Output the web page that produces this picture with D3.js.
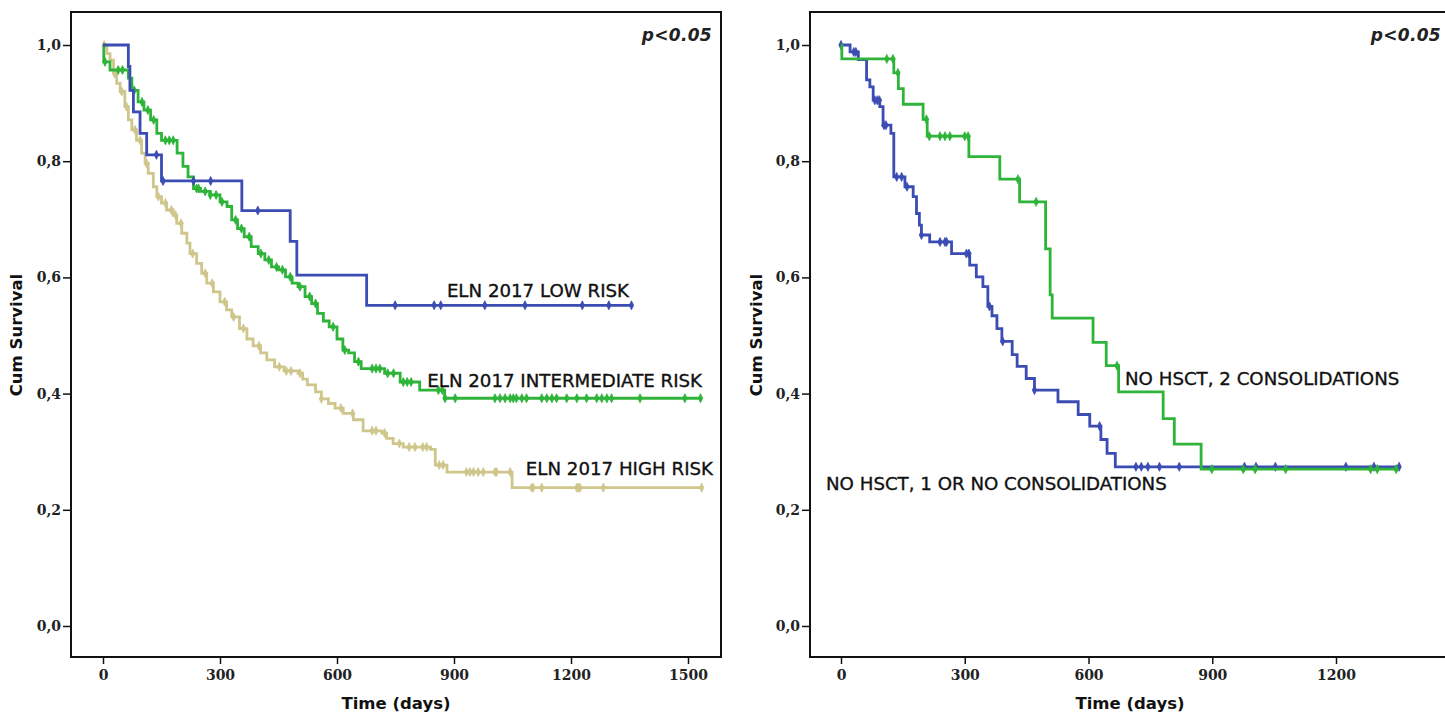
<!DOCTYPE html>
<html>
<head>
<meta charset="utf-8">
<script src="https://cdn.jsdelivr.net/npm/d3@7"></script>
<style>
  html, body { margin: 0; padding: 0; background: #fff; }
  svg { display: block; }
</style>
</head>
<body>
<svg id="chart" width="1445" height="718"></svg>
<script>
// ---------------- DATA ----------------
const yTickValues = [0, 0.2, 0.4, 0.6, 0.8, 1.0];
const xTicksLeft = [0, 300, 600, 900, 1200, 1500];
const xTicksRight = [0, 300, 600, 900, 1200];

// Left panel: ELN 2017 risk groups  [time (days), cumulative survival]
const lowRiskSteps = [[0,1.0],[65,0.963],[69,0.922],[78,0.885],[95,0.848],[112,0.811],[150,0.766],[356,0.715],[480,0.662],[497,0.604],[676,0.552]];
const lowRiskEnd = 1355;
const lowRiskCensor = [137,154,232,276,397,749,849,866,979,1082,1229,1297,1355];

const intRiskSteps = [[0,1.0],[2,0.971],[18,0.957],[65,0.943],[74,0.922],[90,0.902],[105,0.888],[122,0.871],[138,0.848],[150,0.836],[190,0.814],[205,0.791],[218,0.773],[232,0.753],[250,0.748],[275,0.742],[300,0.730],[318,0.722],[330,0.699],[345,0.684],[362,0.670],[380,0.653],[398,0.641],[415,0.630],[432,0.618],[450,0.613],[468,0.601],[485,0.590],[500,0.584],[518,0.567],[535,0.555],[550,0.538],[565,0.525],[580,0.515],[600,0.494],[615,0.475],[630,0.470],[645,0.455],[662,0.443],[722,0.435],[762,0.420],[812,0.406],[876,0.392]];
const intRiskEnd = 1532;
const intRiskCensor = [5,39,50,80,100,115,130,160,170,180,240,245,262,275,290,305,340,355,375,405,425,445,460,480,505,530,545,590,620,655,690,700,710,730,745,770,780,790,860,870,877,903,1005,1018,1031,1044,1052,1060,1074,1086,1125,1138,1151,1163,1189,1215,1240,1266,1279,1292,1304,1377,1492,1532];

const highRiskSteps = [[0,1.0],[10,0.985],[18,0.974],[27,0.951],[35,0.934],[44,0.920],[56,0.894],[65,0.871],[74,0.854],[86,0.836],[99,0.814],[108,0.796],[116,0.779],[129,0.756],[138,0.739],[150,0.728],[163,0.716],[180,0.707],[189,0.693],[202,0.676],[215,0.659],[223,0.641],[240,0.624],[253,0.607],[266,0.590],[283,0.575],[300,0.558],[317,0.544],[330,0.532],[350,0.512],[369,0.494],[385,0.482],[404,0.470],[420,0.458],[440,0.446],[464,0.439],[500,0.435],[512,0.425],[524,0.415],[545,0.403],[560,0.391],[578,0.383],[595,0.375],[616,0.366],[642,0.355],[667,0.336],[715,0.332],[727,0.323],[744,0.314],[770,0.308],[840,0.304],[852,0.277],[882,0.265],[1049,0.238]];
const highRiskEnd = 1535;
const highRiskCensor = [3,30,48,60,82,95,112,142,160,175,186,200,230,262,280,312,335,360,400,452,470,482,505,560,610,640,690,700,722,760,785,800,820,830,862,872,932,941,950,962,975,1005,1009,1044,1099,1103,1125,1215,1219,1223,1283,1535];

// Right panel: no HSCT groups
const twoConsSteps = [[0,1.0],[2,0.976],[128,0.952],[139,0.925],[151,0.898],[199,0.872],[209,0.843],[310,0.808],[385,0.769],[433,0.730],[496,0.649],[507,0.570],[512,0.530],[611,0.488],[643,0.448],[673,0.403],[781,0.357],[808,0.313],[873,0.270]];
const twoConsEnd = 1349;
const twoConsCensor = [111,126,138,207,214,240,252,264,300,308,429,473,669,899,975,1004,1078,1284,1300,1346];

const oneConsSteps = [[0,1.0],[22,0.988],[42,0.975],[62,0.940],[70,0.928],[78,0.905],[94,0.894],[102,0.862],[121,0.848],[128,0.773],[155,0.756],[175,0.739],[183,0.710],[190,0.690],[195,0.673],[215,0.661],[268,0.641],[312,0.621],[328,0.601],[344,0.584],[356,0.550],[366,0.534],[378,0.512],[390,0.490],[415,0.467],[427,0.447],[449,0.426],[469,0.406],[526,0.386],[575,0.364],[603,0.344],[630,0.321],[645,0.297],[665,0.274]];
const oneConsEnd = 1353;
const oneConsCensor = [0,31,36,82,88,93,104,109,135,147,160,195,240,252,256,304,310,360,392,469,627,715,728,744,772,820,978,1006,1053,1224,1292,1353];

const leftLabels = ["ELN 2017 LOW RISK", "ELN 2017 INTERMEDIATE RISK", "ELN 2017 HIGH RISK"];
const rightLabels = ["NO HSCT, 2 CONSOLIDATIONS", "NO HSCT, 1 OR NO CONSOLIDATIONS"];
const pText = "p<0.05";

// ---------------- STYLE ----------------
const BLUE = "#3b4db3", GREEN = "#2fb43a", TAN = "#cfc68c";

const svg = d3.select("#chart");

const y = d3.scaleLinear().domain([0, 1]).range([626, 45]);

function panel(cfg) {
  const g = svg.append("g");
  const x = cfg.x;
  // frame
  g.append("rect")
    .attr("x", cfg.frame[0]).attr("y", 12)
    .attr("width", cfg.frame[1] - cfg.frame[0]).attr("height", 657 - 12)
    .attr("fill", "none").attr("stroke", "#111").attr("stroke-width", 2);

  // y axis
  const ya = g.append("g").attr("transform", `translate(${cfg.frame[0]},0)`)
    .call(d3.axisLeft(y).tickValues(yTickValues).tickSize(8).tickPadding(2)
      .tickFormat(d => d.toFixed(1).replace(".", ",")));
  ya.select(".domain").remove();
  ya.selectAll("line").attr("stroke", "#111").attr("stroke-width", 1.5);
  ya.selectAll("text").attr("font-family", "DejaVu Serif").attr("font-weight", "bold")
    .attr("font-size", 14).attr("fill", "#222");

  // x axis
  const xa = g.append("g").attr("transform", "translate(0,657)")
    .call(d3.axisBottom(x).tickValues(cfg.xTicks).tickSize(7).tickPadding(6).tickFormat(d3.format("d")));
  xa.select(".domain").remove();
  xa.selectAll("line").attr("stroke", "#111").attr("stroke-width", 1.5);
  xa.selectAll("text").attr("font-family", "DejaVu Serif").attr("font-weight", "bold")
    .attr("font-size", 14).attr("fill", "#222");

  // axis titles
  g.append("text").attr("x", (cfg.frame[0] + Math.min(cfg.frame[1], 1450)) / 2).attr("y", 709)
    .attr("text-anchor", "middle").attr("font-family", "DejaVu Sans").attr("font-weight", "bold")
    .attr("font-size", 16.5).attr("fill", "#111").text("Time (days)");
  g.append("text").attr("transform", `translate(${cfg.yTitleX},335) rotate(-90)`)
    .attr("text-anchor", "middle").attr("font-family", "DejaVu Sans").attr("font-weight", "bold")
    .attr("font-size", 16.5).attr("fill", "#111").text("Cum Survival");

  // p value
  g.append("text").attr("x", cfg.pX).attr("y", 41).attr("text-anchor", "end")
    .attr("font-family", "DejaVu Sans").attr("font-style", "italic").attr("font-weight", "bold")
    .attr("font-size", 17).attr("letter-spacing", 0.3).attr("fill", "#222").text(pText);

  const line = d3.line().x(d => x(d[0])).y(d => y(d[1])).curve(d3.curveStepAfter);
  cfg.series.forEach(s => {
    const pts = s.steps.concat([[s.end, s.steps[s.steps.length - 1][1]]]);
    g.append("path").attr("d", line(pts)).attr("fill", "none")
      .attr("stroke", s.color).attr("stroke-width", 2.8).attr("stroke-linejoin", "miter");
    const valueAt = t => { let v = s.steps[0][1]; for (const p of s.steps) { if (p[0] <= t) v = p[1]; } return v; };
    g.selectAll(null).data(s.censor).enter().append("path")
      .attr("d", t => {
        const cx = x(t), cy = y(valueAt(t));
        return `M${cx},${cy - 4.5}L${cx + 2.2},${cy}L${cx},${cy + 4.5}L${cx - 2.2},${cy}Z`;
      })
      .attr("fill", s.color).attr("stroke", s.color).attr("stroke-width", 0.8);
  });

  cfg.labels.forEach(l => {
    g.append("text").attr("x", l.x).attr("y", l.y).attr("text-anchor", l.anchor)
      .attr("font-family", "DejaVu Sans").attr("font-size", 18.2)
      .attr("fill", "#111").attr("stroke", "#111").attr("stroke-width", 0.35)
      .text(l.text);
  });
}

const xLeft = d3.scaleLinear().domain([0, 1500]).range([103, 688]);
const xRight = d3.scaleLinear().domain([0, 1200]).range([841, 1336]);

panel({
  x: xLeft, frame: [71, 721], xTicks: xTicksLeft, yTitleX: 22, pX: 712,
  series: [
    { steps: highRiskSteps, end: highRiskEnd, censor: highRiskCensor, color: TAN },
    { steps: intRiskSteps, end: intRiskEnd, censor: intRiskCensor, color: GREEN },
    { steps: lowRiskSteps, end: lowRiskEnd, censor: lowRiskCensor, color: BLUE }
  ],
  labels: [
    { text: leftLabels[0], x: 629, y: 297, anchor: "end" },
    { text: leftLabels[1], x: 702, y: 387, anchor: "end" },
    { text: leftLabels[2], x: 713, y: 475, anchor: "end" }
  ]
});

panel({
  x: xRight, frame: [810, 1470], xTicks: xTicksRight, yTitleX: 762, pX: 1441,
  series: [
    { steps: oneConsSteps, end: oneConsEnd, censor: oneConsCensor, color: BLUE },
    { steps: twoConsSteps, end: twoConsEnd, censor: twoConsCensor, color: GREEN }
  ],
  labels: [
    { text: rightLabels[0], x: 1125, y: 385, anchor: "start" },
    { text: rightLabels[1], x: 826, y: 490, anchor: "start" }
  ]
});
</script>
</body>
</html>
